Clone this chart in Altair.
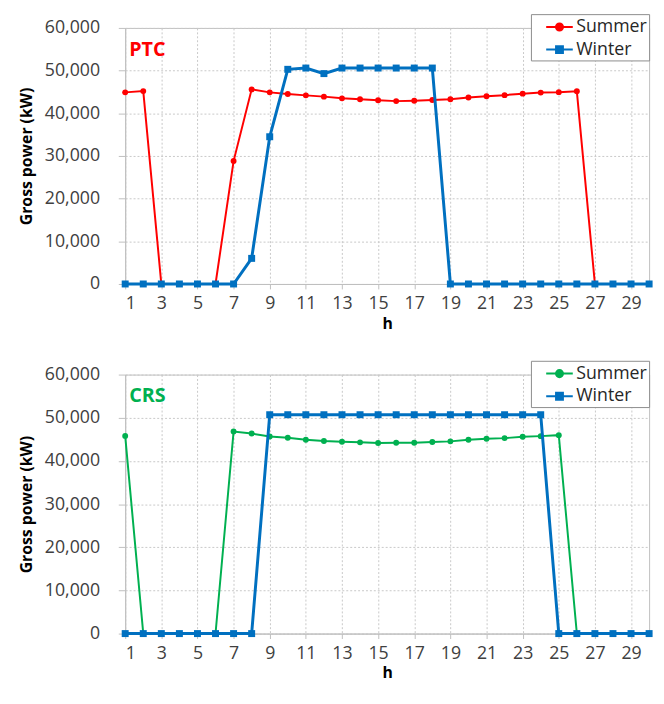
import altair as alt
import pandas as pd

hours = list(range(1, 31))

ptc_summer = [44900, 45200, 0, 0, 0, 0, 28800, 45600, 44900, 44500,
              44200, 43900, 43500, 43300, 43050, 42850, 42950, 43100, 43300, 43700,
              44000, 44250, 44600, 44850, 44950, 45150, 0, 0, 0, 0]
ptc_winter = [0, 0, 0, 0, 0, 0, 0, 6000, 34500, 50300,
              50600, 49300, 50600, 50600, 50600, 50600, 50600, 50600, 0, 0,
              0, 0, 0, 0, 0, 0, 0, 0, 0, 0]

crs_summer = [45800, 0, 0, 0, 0, 0, 46800, 46350, 45670, 45350,
              44900, 44600, 44440, 44300, 44150, 44200, 44200, 44370, 44530, 44900,
              45120, 45280, 45580, 45740, 45970, 0, 0, 0, 0, 0]
crs_winter = [0, 0, 0, 0, 0, 0, 0, 0, 50700, 50700,
              50700, 50700, 50700, 50700, 50700, 50700, 50700, 50700, 50700, 50700,
              50700, 50700, 50700, 50700, 0, 0, 0, 0, 0, 0]

series_names = ["Summer", "Winter"]
x_tick_values = list(range(1, 30, 2))
y_tick_values = [0, 10000, 20000, 30000, 40000, 50000, 60000]

BLUE = "#0070C0"
RED = "#FF0000"
GREEN = "#00B050"
GRID = "#C8C8C8"
FONT = "Open Sans"

CIRCLE_PATH = ("M-1.35,0L1.35,0M-0.36,0A0.36,0.36,0,1,1,0.36,0"
               "A0.36,0.36,0,1,1,-0.36,0Z")
SQUARE_PATH = "M-1.35,0L1.35,0M-0.35,-0.35L0.35,-0.35L0.35,0.35L-0.35,0.35Z"

W = 532


def panel(summer, winter, summer_color, label, height):
    df = pd.DataFrame({
        "h": hours * 2,
        "value": summer + winter,
        "series": ["Summer"] * len(hours) + ["Winter"] * len(hours),
    })
    x = alt.X("h:Q",
              scale=alt.Scale(domain=[1, 30], nice=False, zero=False),
              axis=alt.Axis(values=x_tick_values, title="h", format="d",
                            labelOverlap=False,
                            labelFontSize=18, labelColor="#404040", labelFont=FONT,
                            labelPadding=6,
                            titleFont=FONT, titleFontSize=16, titleFontWeight="bold",
                            titleColor="#000000", titlePadding=3,
                            tickSize=5, tickColor="#BFBFBF", domainColor="#BFBFBF",
                            gridColor=GRID, gridDash=[2, 2], gridWidth=1))
    y = alt.Y("value:Q",
              scale=alt.Scale(domain=[0, 60000], nice=False),
              axis=alt.Axis(values=y_tick_values, format=",d",
                            title="Gross power (kW)", labelOverlap=False,
                            labelFontSize=18, labelColor="#404040", labelFont=FONT,
                            labelPadding=19,
                            titleFont=FONT, titleFontSize=16, titleFontWeight="bold",
                            titleColor="#000000", titlePadding=10,
                            tickSize=7, tickColor="#BFBFBF", domainColor="#BFBFBF",
                            gridColor=GRID, gridDash=[2, 2], gridWidth=1))
    base = alt.Chart(df).encode(x=x, y=y)
    s = base.transform_filter("datum.series == 'Summer'")
    w = base.transform_filter("datum.series == 'Winter'")
    s_line = s.mark_line(strokeWidth=2, color=summer_color)
    s_pts = s.mark_point(shape="circle", filled=True, size=36, opacity=1,
                         color=summer_color)
    w_line = w.mark_line(strokeWidth=3, color=BLUE)
    w_pts = w.mark_point(shape="square", filled=True, size=50, opacity=1,
                         color=BLUE)

    leg = alt.Legend(orient="none", legendX=412, legendY=-14, offset=0, title=None,
                     labelFont=FONT, labelFontSize=18, labelColor="#262626",
                     symbolSize=400, symbolStrokeWidth=2, symbolOpacity=1,
                     symbolOffset=16, labelOffset=6,
                     strokeColor="#8C8C8C", fillColor="#FFFFFF",
                     padding=2, rowPadding=3)
    legend_layer = alt.Chart(df).mark_point(size=0, opacity=1).encode(
        shape=alt.Shape("series:N", scale=alt.Scale(domain=series_names,
                                                    range=[CIRCLE_PATH, SQUARE_PATH]),
                        legend=leg),
        fill=alt.Fill("series:N", scale=alt.Scale(domain=series_names,
                                                  range=[summer_color, BLUE]),
                      legend=leg),
        stroke=alt.Stroke("series:N", scale=alt.Scale(domain=series_names,
                                                      range=[summer_color, BLUE]),
                          legend=leg),
    )
    text = alt.Chart(pd.DataFrame({"label": [label]})).mark_text(
        align="left", baseline="middle", font=FONT, fontSize=20,
        fontWeight="bold", color=summer_color,
    ).encode(text="label:N", x=alt.value(4), y=alt.value(22))

    return alt.layer(s_line, s_pts, w_line, w_pts, legend_layer, text).properties(
        width=W, height=height)


top = panel(ptc_summer, ptc_winter, RED, "PTC", 260)
bottom = panel(crs_summer, crs_winter, GREEN, "CRS", 263)

chart = alt.vconcat(top, bottom, spacing=28).resolve_scale(
    fill="independent", stroke="independent", shape="independent",
).properties(
    padding={"left": 10, "top": 0, "right": 0, "bottom": 0},
).configure_view(stroke="#BFBFBF", strokeWidth=1)

chart.save("out.html", embed_options={"renderer": "svg", "actions": False})
